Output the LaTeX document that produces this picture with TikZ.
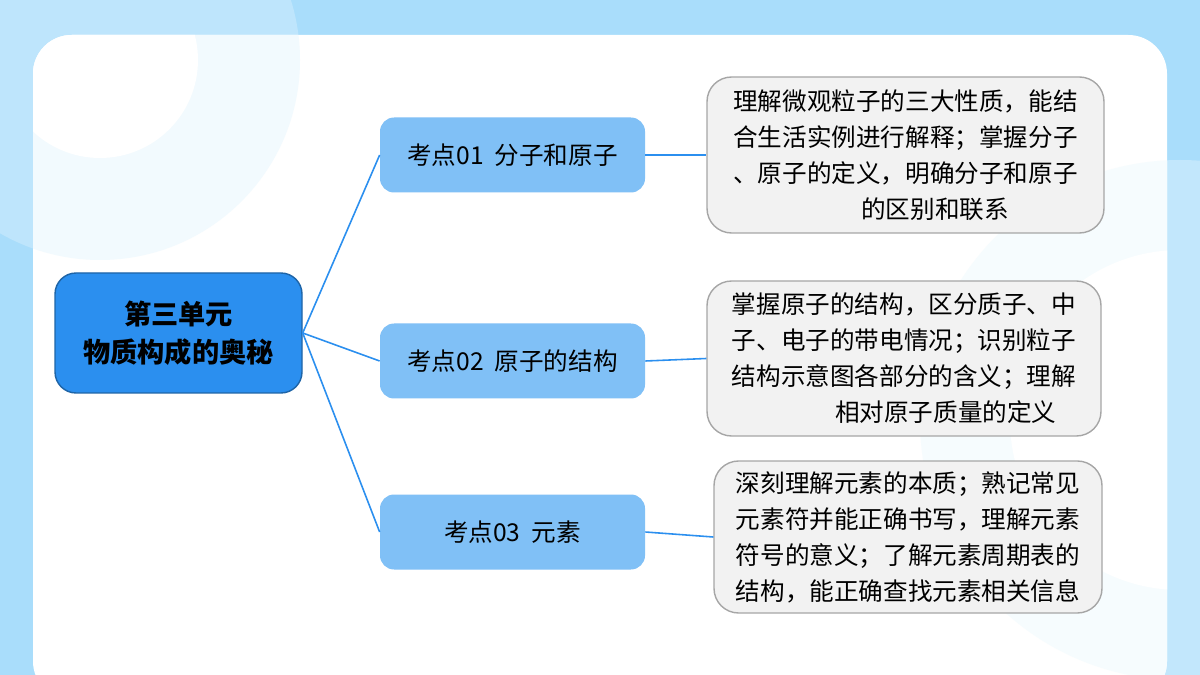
\documentclass[tikz,border=0pt]{standalone}
\usepackage{fontspec}
\setmainfont{Noto Sans CJK SC}
\begin{document}
\begin{tikzpicture}[x=0.02cm,y=-0.02cm,
  link/.style={draw=rootc,line width=0.9pt},
  topic/.style={fill=topicc,rounded corners=8pt,minimum width=265*0.02cm,minimum height=75*0.02cm,font=\fontsize{14}{16}\selectfont,inner sep=0},
  desc/.style={fill=descc,draw=gray!70,line width=0.8pt,rounded corners=14pt,font=\fontsize{14}{20.5}\selectfont,align=left,inner sep=0}]
\definecolor{bgc}{HTML}{A9DDFB}
\definecolor{topicc}{HTML}{80C0F6}
\definecolor{descc}{HTML}{F2F2F2}
\definecolor{rootc}{HTML}{2B8FEF}
\useasboundingbox (0,0) rectangle (1200,675);
\fill[bgc] (0,0) rectangle (1200,675);
\fill[white,opacity=0.25] (100,60) circle (200);
\fill[white,opacity=0.3] (1180,420) circle (260);
\fill[white,rounded corners=22pt] (33,35) rectangle (1167,700);
\begin{scope}
\clip[rounded corners=22pt] (33,35) rectangle (1167,700);
\fill[bgc!15] (100,60) circle (200);
\fill[white] (100,60) circle (98);
\fill[bgc!10] (1180,420) circle (260);
\fill[white] (1180,420) circle (170);
\end{scope}
\node[fill=rootc,draw=rootc!70!black,line width=0.8pt,rounded corners=12pt,minimum width=247*0.02cm,minimum height=120*0.02cm,align=center,font=\fontsize{15.5}{21.5}\selectfont\bfseries,inner sep=0] (root) at (178.5,333) {第三单元\\物质构成的奥秘};
\node[topic] (t1) at (512.5,155) {考点01\ \ 分子和原子};
\node[topic] (t2) at (512.5,361) {考点02\ \ 原子的结构};
\node[topic] (t3) at (512.5,532) {考点03\ \ 元素};
\node[desc,minimum width=397*0.02cm,minimum height=156*0.02cm] (d1) at (905.5,155) {理解微观粒子的三大性质，能结\\合生活实例进行解释；掌握分子\\、原子的定义，明确分子和原子\\\hspace*{5.2em}的区别和联系};
\node[desc,minimum width=394*0.02cm,minimum height=155*0.02cm] (d2) at (904,358.5) {掌握原子的结构，区分质子、中\\子、电子的带电情况；识别粒子\\结构示意图各部分的含义；理解\\\hspace*{4.2em}相对原子质量的定义};
\node[desc,minimum width=388*0.02cm,minimum height=152*0.02cm] (d3) at (908,537) {深刻理解元素的本质；熟记常见\\元素符并能正确书写，理解元素\\符号的意义；了解元素周期表的\\结构，能正确查找元素相关信息};
\foreach \t in {t1,t2,t3} \draw[link] (root.east) -- (\t.west);
\draw[link] (t1.east) -- (d1.west);
\draw[link] (t2.east) -- (d2.west);
\draw[link] (t3.east) -- (d3.west);
\end{tikzpicture}
\end{document}
